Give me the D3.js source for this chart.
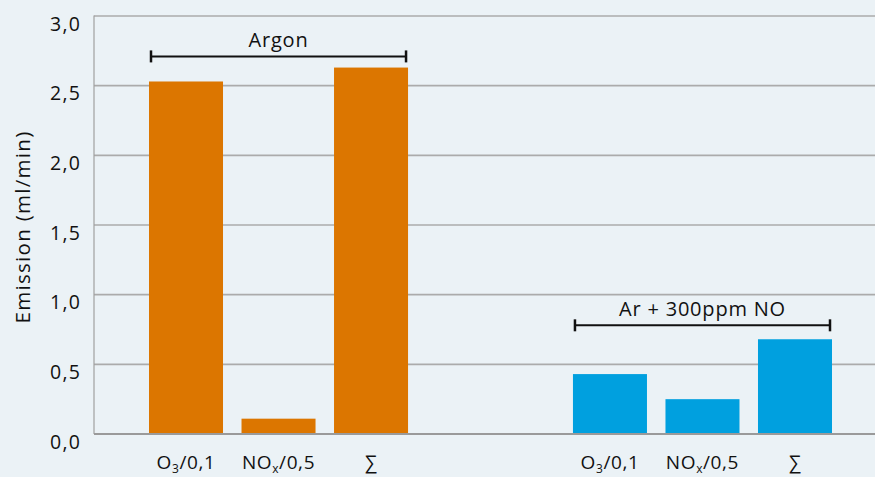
<!DOCTYPE html>
<html>
<head>
<meta charset="utf-8">
<script src="https://cdn.jsdelivr.net/npm/d3@7"></script>
<style>
html,body{margin:0;padding:0;background:#EBF2F6;}
svg{display:block;}
text{font-family:"Open Sans","Noto Sans",sans-serif;fill:#111;}
</style>
</head>
<body>
<svg id="chart" width="875" height="477"></svg>
<script>
// ---- data ----
const groups = ["Argon", "Ar + 300ppm NO"];
const categories = ["O3/0,1", "NOx/0,5", "∑"];
const categoryBase = ["O", "NO", "∑"];
const categorySub = ["3", "x", ""];
const categoryRest = ["/0,1", "/0,5", ""];
const argonValues = [2.53, 0.11, 2.63];
const arNoValues = [0.43, 0.25, 0.68];
const bracketLevels = [2.71, 0.78];
const yTicks = [0, 0.5, 1.0, 1.5, 2.0, 2.5, 3.0];
const yTickLabels = ["0,0", "0,5", "1,0", "1,5", "2,0", "2,5", "3,0"];
const yTitle = "Emission (ml/min)";
const groupColors = ["#DC7600", "#00A0DF"];

// ---- layout ----
const W = 875, H = 477;
const plotLeft = 94, plotRight = 875, plotTop = 16, plotBottom = 434;

const svg = d3.select("#chart");
svg.append("rect").attr("width", W).attr("height", H).attr("fill", "#EBF2F6");

const y = d3.scaleLinear().domain([0, 3]).range([plotBottom, plotTop]);
const x0 = d3.scaleBand().domain(groups).range([149, 832]).paddingInner(0.389).paddingOuter(0);
const x1 = d3.scaleBand().domain(categories).range([0, x0.bandwidth()]).paddingInner(0.2).paddingOuter(0);

// grid lines
svg.append("g").selectAll("line").data(yTicks.filter(d => d > 0)).join("line")
  .attr("x1", plotLeft).attr("x2", plotRight)
  .attr("y1", d => y(d)).attr("y2", d => y(d))
  .attr("stroke", "#ABABAB").attr("stroke-width", 1.6);

// left axis line
svg.append("line").attr("x1", plotLeft).attr("x2", plotLeft)
  .attr("y1", plotTop - 0.5).attr("y2", plotBottom)
  .attr("stroke", "#A0A0A0").attr("stroke-width", 1.2);

// tick labels
svg.append("g").selectAll("text").data(yTicks).join("text")
  .attr("x", 81).attr("y", d => y(d) + 14.5)
  .attr("text-anchor", "end")
  .attr("font-size", 19.5).attr("letter-spacing", 1.2)
  .text((d, i) => yTickLabels[i]);

// y title
svg.append("text")
  .attr("transform", `translate(30,${(plotTop + plotBottom) / 2 + 2}) rotate(-90)`)
  .attr("text-anchor", "middle")
  .attr("font-size", 20.5).attr("letter-spacing", 1.3)
  .text(yTitle);

// bars
const seriesValues = [argonValues, arNoValues];
groups.forEach((g, gi) => {
  const gEl = svg.append("g").attr("transform", `translate(${x0(g)},0)`);
  gEl.selectAll("rect").data(seriesValues[gi]).join("rect")
    .attr("x", (d, i) => x1(categories[i]))
    .attr("width", x1.bandwidth())
    .attr("y", d => y(d))
    .attr("height", d => y(0) - y(d))
    .attr("fill", groupColors[gi]);

  // category labels
  const lab = gEl.selectAll("text.cat").data(categories).join("text")
    .attr("class", "cat")
    .attr("x", (d, i) => x1(d) + x1.bandwidth() / 2)
    .attr("y", 468.5)
    .attr("text-anchor", "middle")
    .attr("font-size", 19).attr("letter-spacing", 0.6);
  lab.each(function (d, i) {
    const t = d3.select(this);
    t.append("tspan").text(categoryBase[i]);
    if (categorySub[i]) {
      t.append("tspan").attr("font-size", 12).attr("dy", 4.5).text(categorySub[i]);
      t.append("tspan").attr("dy", -4.5).text(categoryRest[i]);
    }
  });

  // bracket
  const by = y(bracketLevels[gi]);
  const bx1 = x0(g) + 2, bx2 = x0(g) + x0.bandwidth() - 2;
  const br = svg.append("g").attr("stroke", "#111");
  br.append("line").attr("x1", bx1).attr("x2", bx2).attr("y1", by).attr("y2", by).attr("stroke-width", 2);
  br.append("line").attr("x1", bx1).attr("x2", bx1).attr("y1", by - 6).attr("y2", by + 6).attr("stroke-width", 2.5);
  br.append("line").attr("x1", bx2).attr("x2", bx2).attr("y1", by - 6).attr("y2", by + 6).attr("stroke-width", 2.5);
  svg.append("text")
    .attr("x", (bx1 + bx2) / 2).attr("y", by - 9.5)
    .attr("text-anchor", "middle")
    .attr("font-size", 20).attr("letter-spacing", 0.8)
    .text(g);
});

// baseline
svg.append("line").attr("x1", plotLeft).attr("x2", plotRight)
  .attr("y1", y(0)).attr("y2", y(0))
  .attr("stroke", "#9A9A9A").attr("stroke-width", 1.8);
</script>
</body>
</html>
